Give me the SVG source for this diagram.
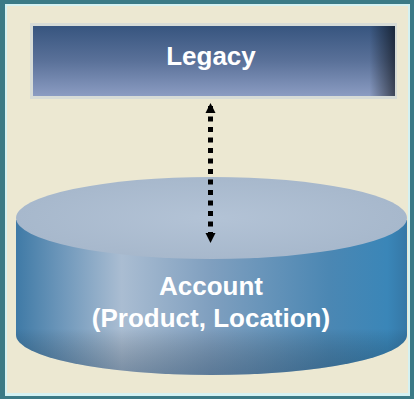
<svg xmlns="http://www.w3.org/2000/svg" width="414" height="399" viewBox="0 0 414 399">
<defs>
<style>
.lbl{font-family:"Liberation Sans",Arial,sans-serif;font-weight:bold;font-size:26px;fill:#ffffff;text-anchor:middle}
</style>
<linearGradient id="legacyG" x1="0" y1="0" x2="0" y2="1">
<stop offset="0" stop-color="#37557f"/>
<stop offset="0.5" stop-color="#5a7199"/>
<stop offset="1" stop-color="#8b9cc2"/>
</linearGradient>
<linearGradient id="legacyR" x1="0" y1="0" x2="1" y2="0">
<stop offset="0" stop-color="#000" stop-opacity="0"/>
<stop offset="0.93" stop-color="#000" stop-opacity="0"/>
<stop offset="1" stop-color="#000" stop-opacity="0.55"/>
</linearGradient>
<linearGradient id="bodyG" x1="0" y1="0" x2="1" y2="0">
<stop offset="0" stop-color="#3f7aa6"/>
<stop offset="0.12" stop-color="#6f98bb"/>
<stop offset="0.27" stop-color="#aabdd2"/>
<stop offset="0.5" stop-color="#7f9fbf"/>
<stop offset="0.8" stop-color="#4b87b3"/>
<stop offset="0.95" stop-color="#3a86b8"/>
<stop offset="1" stop-color="#3577a6"/>
</linearGradient>
<linearGradient id="bodyShade" x1="0" y1="0" x2="0" y2="1">
<stop offset="0" stop-color="#000" stop-opacity="0"/>
<stop offset="0.7" stop-color="#000" stop-opacity="0"/>
<stop offset="1" stop-color="#1a3550" stop-opacity="0.35"/>
</linearGradient>
<radialGradient id="topG" cx="0.5" cy="0.5" r="0.5">
<stop offset="0" stop-color="#b3c3d6"/>
<stop offset="1" stop-color="#a7b8cc"/>
</radialGradient>
<marker id="ah" viewBox="0 0 10 10" refX="9" refY="5" markerWidth="10" markerHeight="12" markerUnits="userSpaceOnUse" orient="auto-start-reverse">
<path d="M0,0 L10,5 L0,10 z" fill="#000"/>
</marker>
</defs>
<rect x="0" y="0" width="414" height="399" fill="#3b7a86"/>
<rect x="5" y="4" width="405" height="392" fill="#d4f1f2"/>
<rect x="7" y="6" width="401" height="387" fill="#ece8d2"/>
<g id="legacy">
<rect x="30" y="23" width="367" height="76" fill="#c9d3da" opacity="0.6"/>
<rect x="33" y="26" width="362" height="70" fill="url(#legacyG)"/>
<rect x="33" y="26" width="362" height="70" fill="url(#legacyR)"/>
<text class="lbl" x="211" y="65">Legacy</text>
</g>
<g id="account">
<path d="M16,220 L16,335 A195.5,40 0 0 0 407,335 L407,220 Z" fill="url(#bodyG)"/>
<path d="M16,220 L16,335 A195.5,40 0 0 0 407,335 L407,220 Z" fill="url(#bodyShade)"/>
<ellipse cx="211.5" cy="218" rx="195.5" ry="41" fill="url(#topG)"/>
<text class="lbl" x="211" y="295">Account</text>
<text class="lbl" x="211" y="327">(Product, Location)</text>
</g>
<g id="connectors">
<line x1="210.5" y1="104" x2="210.5" y2="242" stroke="#000" stroke-width="5" stroke-dasharray="5 5.5" stroke-dashoffset="-2" marker-start="url(#ah)" marker-end="url(#ah)"/>
</g>
</svg>
